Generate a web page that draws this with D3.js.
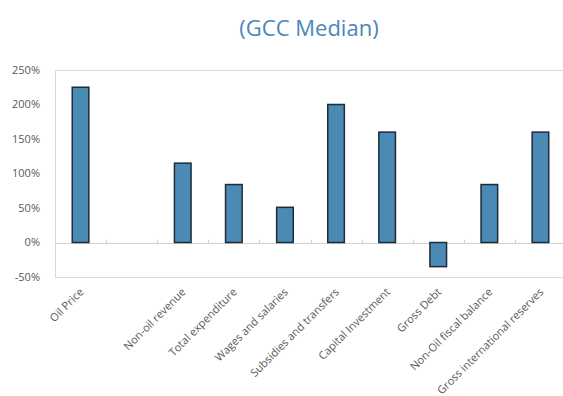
<!DOCTYPE html>
<html>
<head>
<meta charset="utf-8">
<script src="https://cdn.jsdelivr.net/npm/d3@7"></script>
<style>
  html, body { margin: 0; padding: 0; background: #fff; }
  svg { display: block; }
</style>
</head>
<body>
<svg id="chart" width="563" height="396"></svg>
<script>
const title = "(GCC Median)";
const categories = ["Oil Price", "", "Non-oil revenue", "Total expenditure", "Wages and salaries",
  "Subsidies and transfers", "Capital Investment", "Gross Debt", "Non-Oil fiscal balance",
  "Gross international reserves"];
const values = [225, null, 115, 84, 51, 200, 160, -35, 84, 160];
const yTicks = [-50, 0, 50, 100, 150, 200, 250];

const svg = d3.select("#chart");
const font = "'Open Sans', 'Noto Sans', sans-serif";
const plotLeft = 55, plotRight = 566, plotTop = 70, plotBottom = 277;

const x = d3.scaleBand().domain(categories).range([plotLeft, plotRight])
  .paddingInner(0.675).paddingOuter(0.3375);
const y = d3.scaleLinear().domain([-50, 250]).range([plotBottom, plotTop]);

// frame
svg.append("rect").attr("x", plotLeft + 0.5).attr("y", plotTop + 0.5)
  .attr("width", plotRight - plotLeft).attr("height", plotBottom - plotTop)
  .attr("fill", "none").attr("stroke", "#d9d9d9").attr("stroke-width", 1);

// y labels
svg.append("g").selectAll("text").data(yTicks).join("text")
  .attr("x", 40).attr("y", d => y(d)).attr("dy", "0.35em")
  .attr("text-anchor", "end").attr("font-family", font).attr("font-size", 11)
  .attr("fill", "#595959").text(d => d + "%");

// zero line
const y0 = Math.round(y(0)) + 0.5;
svg.append("line").attr("x1", plotLeft).attr("x2", plotRight).attr("y1", y0).attr("y2", y0)
  .attr("stroke", "#d0d0d0").attr("stroke-width", 1);

// category ticks at zero line
const step = x.step();
const bounds = categories.slice(1).map((c, i) => plotLeft + step * (i + 1));
svg.append("g").selectAll("line").data(bounds).join("line")
  .attr("x1", d => Math.round(d) + 0.5).attr("x2", d => Math.round(d) + 0.5)
  .attr("y1", y0 - 4).attr("y2", y0)
  .attr("stroke", "#d0d0d0").attr("stroke-width", 1);

// bars
svg.append("g").selectAll("rect")
  .data(categories.map((c, i) => ({c, v: values[i]})).filter(d => d.v !== null))
  .join("rect")
  .attr("x", d => x(d.c)).attr("width", x.bandwidth())
  .attr("y", d => y(Math.max(0, d.v)))
  .attr("height", d => Math.abs(y(d.v) - y(0)))
  .attr("fill", "#4a8ab5").attr("stroke", "#1e2b38").attr("stroke-width", 1.5);

// x labels
svg.append("g").selectAll("text").data(categories).join("text")
  .attr("transform", d => `translate(${x(d) + x.bandwidth() / 2 + 1},${plotBottom + 13}) rotate(-45)`)
  .attr("text-anchor", "end").attr("dy", "0.35em")
  .attr("font-family", font).attr("font-size", 11).attr("fill", "#595959")
  .text(d => d);

// title
svg.append("text").attr("x", 309).attr("y", 36).attr("text-anchor", "middle")
  .attr("font-family", font).attr("font-size", 22).attr("fill", "#4a86b8")
  .text(title);
</script>
</body>
</html>
